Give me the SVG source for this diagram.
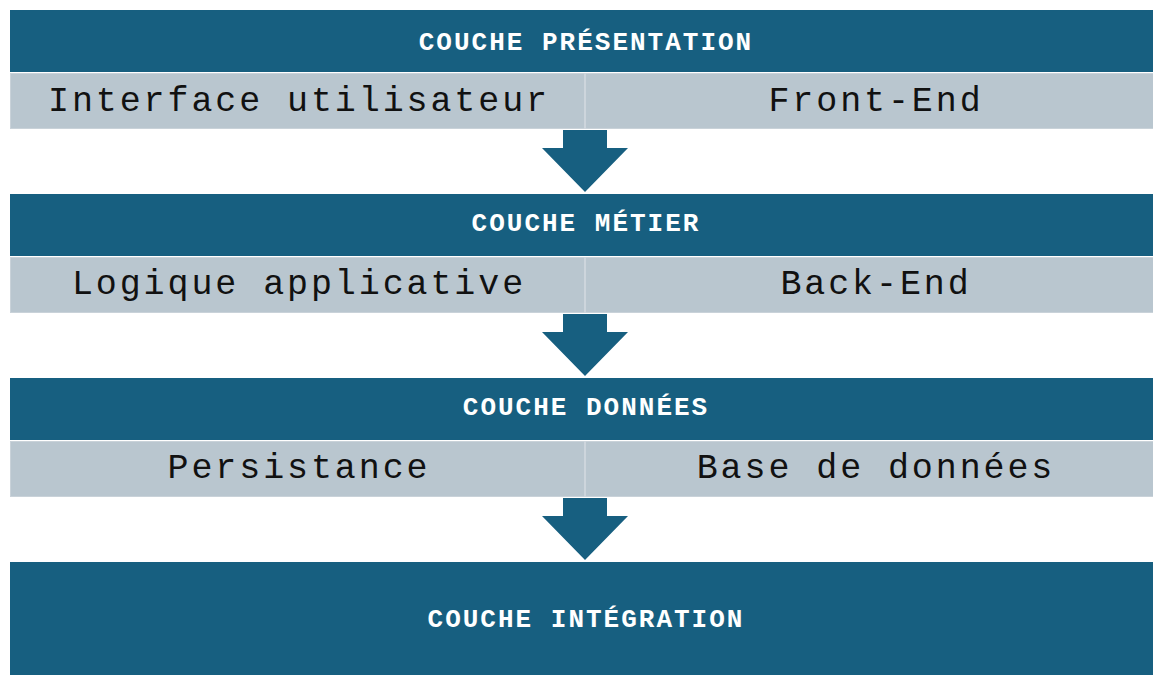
<svg xmlns="http://www.w3.org/2000/svg" width="1153" height="675" viewBox="0 0 1153 675">
  <style>
    .band { fill: #175f80; }
    .row { fill: #b9c6cf; stroke: #c9d2d9; stroke-width: 1; }
    .divider { stroke: #cdd5dc; stroke-width: 2; }
    .arrow { fill: #175f80; }
    .title { font-family: "Courier New", "Liberation Mono", monospace; font-weight: bold; font-size: 26px; letter-spacing: 2px; fill: #ffffff; text-anchor: middle; }
    .cell { font-family: "Courier New", "Liberation Mono", monospace; font-size: 35px; letter-spacing: 2.9px; fill: #111111; text-anchor: middle; }
  </style>
  <rect width="1153" height="675" fill="#ffffff"/>

  <!-- Presentation layer -->
  <g id="layer-presentation">
    <rect class="band" x="10" y="10" width="1143" height="62"/>
    <text class="title" x="586" y="50">COUCHE PRÉSENTATION</text>
    <rect class="row" x="10.5" y="73.5" width="1143" height="55"/>
    <line class="divider" x1="585" y1="73" x2="585" y2="129"/>
    <text class="cell" x="299" y="111">Interface utilisateur</text>
    <text class="cell" x="876" y="111">Front-End</text>
  </g>

  <!-- Business layer -->
  <g id="layer-metier">
    <rect class="band" x="10" y="194" width="1143" height="62"/>
    <text class="title" x="586" y="231">COUCHE MÉTIER</text>
    <rect class="row" x="10.5" y="257.5" width="1143" height="55"/>
    <line class="divider" x1="585" y1="257" x2="585" y2="313"/>
    <text class="cell" x="299" y="294">Logique applicative</text>
    <text class="cell" x="876" y="294">Back-End</text>
  </g>

  <!-- Data layer -->
  <g id="layer-donnees">
    <rect class="band" x="10" y="378" width="1143" height="62"/>
    <text class="title" x="586" y="415">COUCHE DONNÉES</text>
    <rect class="row" x="10.5" y="441.5" width="1143" height="55"/>
    <line class="divider" x1="585" y1="441" x2="585" y2="497"/>
    <text class="cell" x="299" y="478">Persistance</text>
    <text class="cell" x="876" y="478">Base de données</text>
  </g>

  <!-- Integration layer -->
  <g id="layer-integration">
    <rect class="band" x="10" y="562" width="1143" height="113"/>
    <text class="title" x="586" y="627">COUCHE INTÉGRATION</text>
  </g>

  <!-- Down arrows between layers -->
  <g id="connectors">
    <path class="arrow" d="M563 130 H607 V148 H628 L585 192 L542 148 H563 Z"/>
    <path class="arrow" d="M563 314 H607 V332 H628 L585 376 L542 332 H563 Z"/>
    <path class="arrow" d="M563 498 H607 V516 H628 L585 560 L542 516 H563 Z"/>
  </g>
</svg>
